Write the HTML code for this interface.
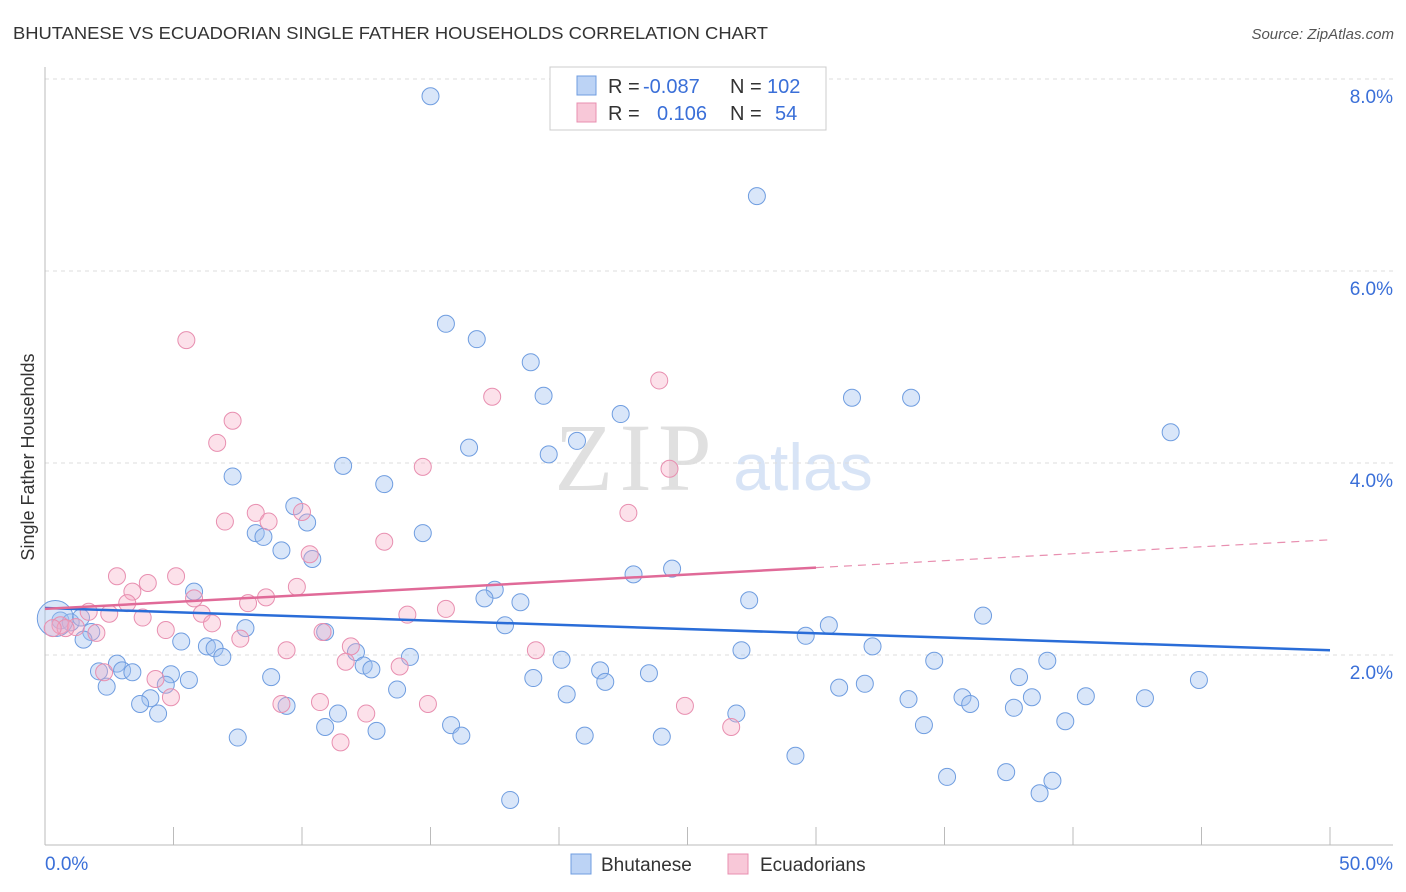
<!DOCTYPE html>
<html><head><meta charset="utf-8">
<style>
body{margin:0;background:#fff;font-family:"Liberation Sans",sans-serif;}
#wrap{position:relative;width:1406px;height:892px;overflow:hidden;}
</style></head>
<body>
<div id="wrap">
<svg id="chart" width="1406" height="892" xmlns="http://www.w3.org/2000/svg">
<text x="13" y="39" font-size="17.5" fill="#333" textLength="755" lengthAdjust="spacingAndGlyphs">BHUTANESE VS ECUADORIAN SINGLE FATHER HOUSEHOLDS CORRELATION CHART</text>
<text x="1394" y="39" font-size="15" fill="#555" font-style="italic" text-anchor="end">Source: ZipAtlas.com</text>
<text x="633" y="490" font-size="96" fill="#e0e0e0" font-family="Liberation Serif" text-anchor="middle" textLength="157">ZIP</text>
<text x="803" y="490" font-size="66" fill="#d8e4f6" text-anchor="middle">atlas</text>
<g id="grid"></g>
<g id="axes"></g>
<g id="pts"></g>
<g id="trend"></g>
<text transform="translate(34,457) rotate(-90)" font-size="18" fill="#333" text-anchor="middle">Single Father Households</text>
<g>
<rect x="550" y="67" width="276" height="63" fill="#fff" stroke="#ccc"/>
<rect x="577" y="76" width="19" height="19" fill="#bcd3f5" stroke="#6f9de0"/>
<rect x="577" y="103" width="19" height="19" fill="#f8c8d8" stroke="#e88fb0"/>
<text x="608" y="93" font-size="20" fill="#333">R =</text>
<text x="643" y="93" font-size="20" fill="#3a6fd8">-0.087</text>
<text x="730" y="93" font-size="20" fill="#333">N =</text>
<text x="767" y="93" font-size="20" fill="#3a6fd8">102</text>
<text x="608" y="120" font-size="20" fill="#333">R =</text>
<text x="657" y="120" font-size="20" fill="#3a6fd8">0.106</text>
<text x="730" y="120" font-size="20" fill="#333">N =</text>
<text x="775" y="120" font-size="20" fill="#3a6fd8">54</text>
</g>
<g>
<rect x="571" y="854" width="20" height="20" fill="#bcd3f5" stroke="#6f9de0"/>
<text x="601" y="871" font-size="19" fill="#333">Bhutanese</text>
<rect x="728" y="854" width="20" height="20" fill="#f8c8d8" stroke="#e88fb0"/>
<text x="760" y="871" font-size="19" fill="#333">Ecuadorians</text>
</g>
</svg>
</div>
<script>
const yTicks=[2,4,6,8];
const yTickLabels=["2.0%","4.0%","6.0%","8.0%"];
const xTickLabels=["0.0%","50.0%"];
const blueX=[15.0,27.7,15.6,16.8,18.9,19.4,31.4,33.7,22.4,43.8,20.7,16.5,19.6,11.6,7.3,13.2,9.7,10.2,8.2,8.5,14.7,9.2,10.4,22.9,24.4,5.8,17.5,17.1,18.5,27.4,36.5,0.6,1.0,1.4,1.8,1.5,17.9,30.5,10.9,7.8,29.6,5.3,6.3,6.6,32.2,27.1,12.1,6.9,14.2,2.8,20.1,34.6,39.0,2.1,3.0,3.4,12.4,12.7,4.9,21.6,23.5,8.8,19.0,5.6,21.8,37.9,44.9,2.4,4.7,31.9,30.9,13.7,20.3,35.7,38.4,40.5,42.8,33.6,4.1,3.7,36.0,9.4,37.7,4.4,26.9,11.4,39.7,15.8,10.9,34.2,12.9,16.2,7.5,21.0,24.0,29.2,35.1,37.4,39.2,38.7,18.1,0.4];
const blueY=[7.82,6.78,5.45,5.29,5.05,4.70,4.68,4.68,4.51,4.32,4.23,4.16,4.09,3.97,3.86,3.78,3.55,3.38,3.27,3.23,3.27,3.09,3.00,2.84,2.90,2.66,2.68,2.59,2.55,2.57,2.41,2.36,2.34,2.39,2.24,2.16,2.31,2.31,2.24,2.28,2.20,2.14,2.09,2.07,2.09,2.05,2.03,1.98,1.98,1.91,1.95,1.94,1.94,1.83,1.84,1.82,1.89,1.85,1.80,1.84,1.81,1.77,1.76,1.74,1.72,1.77,1.74,1.67,1.69,1.70,1.66,1.64,1.59,1.56,1.56,1.57,1.55,1.54,1.55,1.49,1.49,1.47,1.45,1.39,1.39,1.39,1.31,1.27,1.25,1.27,1.21,1.16,1.14,1.16,1.15,0.95,0.73,0.78,0.69,0.56,0.49,2.38];
const pinkX=[5.5,23.9,17.4,7.3,6.7,14.7,24.3,22.7,7.0,8.2,8.7,10.0,13.2,10.3,2.8,5.1,4.0,9.8,3.4,5.8,8.6,3.2,7.9,15.6,1.7,2.5,3.8,6.1,14.1,6.5,0.6,1.2,2.0,4.7,10.8,7.6,11.9,19.1,9.4,11.7,13.8,2.3,4.3,4.9,9.2,10.7,14.9,24.9,12.5,26.7,11.5,0.8,0.3];
const pinkY=[5.28,4.86,4.69,4.44,4.21,3.96,3.94,3.48,3.39,3.48,3.39,3.49,3.18,3.05,2.82,2.82,2.75,2.71,2.66,2.59,2.60,2.54,2.54,2.48,2.45,2.43,2.39,2.43,2.42,2.33,2.31,2.29,2.23,2.26,2.24,2.17,2.09,2.05,2.05,1.93,1.88,1.82,1.75,1.56,1.49,1.51,1.49,1.47,1.39,1.25,1.09,2.28,2.28];
const blueTrend=[[0,2.49],[50,2.05]];
const pinkTrend=[[0,2.48],[30,2.91],[50,3.2]];
const X=v=>45+v*25.7, Y=v=>847-v*96;
const NS="http://www.w3.org/2000/svg";
function mk(tag,attrs,parent){const e=document.createElementNS(NS,tag);for(const k in attrs)e.setAttribute(k,attrs[k]);document.getElementById(parent).appendChild(e);return e;}
yTicks.forEach((t,i)=>{
 const l=mk('line',{x1:45,x2:1393,y1:Y(t),y2:Y(t),stroke:'#ddd','stroke-dasharray':'4,4'},'grid');
 
 
 const tx=mk('text',{x:1393,y:Y(t)+24,'font-size':19,fill:'#3a6fd8','text-anchor':'end'},'grid');
 tx.textContent=yTickLabels[i];
 
 
});
const ax=mk('line',{x1:45,x2:45,y1:67,y2:845,stroke:'#bbb'},'axes');


const bx=mk('line',{x1:45,x2:1393,y1:845,y2:845,stroke:'#bbb'},'axes');


for(let i=0;i<=10;i++){
 const t=mk('line',{x1:X(i*5),x2:X(i*5),y1:827,y2:845,stroke:'#bbb'},'axes');
 
 
}
[[0,'start',45],[50,'end',1393]].forEach((d,i)=>{
 const t=mk('text',{x:d[2],y:870,'font-size':19,fill:'#3a6fd8','text-anchor':d[1]},'axes');
 t.textContent=xTickLabels[i];
 
 
});
blueX.forEach((v,i)=>{
 const big=i===blueX.length-1;
 const c=mk('circle',{cx:X(v),cy:Y(blueY[i]),r:big?18:8.5,fill:'rgba(160,192,240,0.4)',stroke:'#6f9de0','stroke-width':1},'pts');
 
 
});
pinkX.forEach((v,i)=>{
 const c=mk('circle',{cx:X(v),cy:Y(pinkY[i]),r:8.5,fill:'rgba(245,170,195,0.35)',stroke:'#e88fb0','stroke-width':1},'pts');
 
 
});
const bl=mk('line',{x1:X(blueTrend[0][0]),y1:Y(blueTrend[0][1]),x2:X(blueTrend[1][0]),y2:Y(blueTrend[1][1]),stroke:'#2a6dd8','stroke-width':2.5},'trend');


const pl=mk('line',{x1:X(pinkTrend[0][0]),y1:Y(pinkTrend[0][1]),x2:X(pinkTrend[1][0]),y2:Y(pinkTrend[1][1]),stroke:'#e06a98','stroke-width':2.5},'trend');


const pd=mk('line',{x1:X(pinkTrend[1][0]),y1:Y(pinkTrend[1][1]),x2:X(pinkTrend[2][0]),y2:Y(pinkTrend[2][1]),stroke:'#e88fb0','stroke-width':1.2,'stroke-dasharray':'8,6'},'trend');


</script>
</body></html>
